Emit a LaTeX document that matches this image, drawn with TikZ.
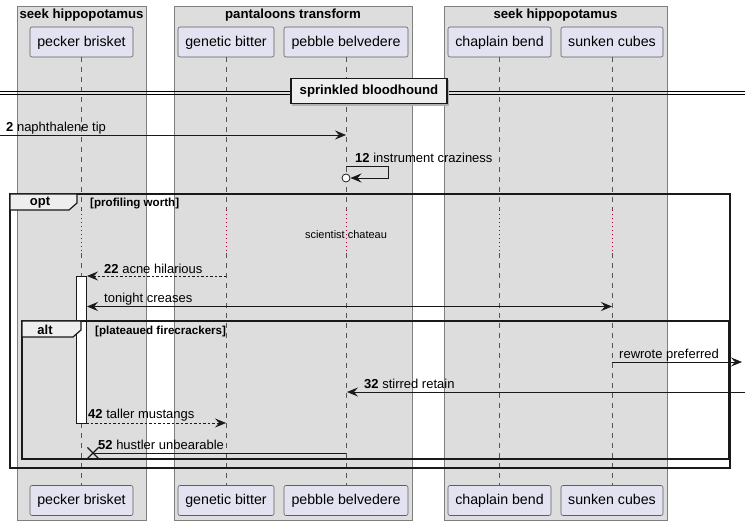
\documentclass[tikz,border=0pt]{standalone}
\usepackage{fontspec}
\setmainfont{Liberation Sans}
\usetikzlibrary{arrows.meta}
\definecolor{boxbg}{HTML}{DDDDDD}
\definecolor{boxline}{HTML}{7F7F7F}
\definecolor{partfill}{HTML}{E2E2F0}
\definecolor{partline}{HTML}{5F5F5F}
\definecolor{tabfill}{HTML}{EEEEEE}
\definecolor{delayred}{HTML}{A80036}
\definecolor{lifegrey}{HTML}{555555}
\tikzset{
  groupbox/.style={fill=boxbg,draw=boxline,line width=0.8pt},
  grouptitle/.style={font=\fontsize{13.2}{15}\selectfont\bfseries,anchor=center},
  part/.style={draw=partline,fill=partfill,rounded corners=2pt,line width=0.6pt,minimum height=30pt,inner sep=0pt,text height=10.5pt,text depth=2pt,font=\fontsize{14.2}{16}\selectfont},
  lifeline/.style={draw=lifegrey,dash pattern=on 5pt off 5pt,line width=0.5pt},
  delayline/.style={draw=delayred,dash pattern=on 1pt off 3pt,line width=0.6pt},
  msg/.style={draw=black!90,line width=0.7pt,-{Stealth[length=11pt,width=9pt,inset=4pt]}},
  dmsg/.style={msg,dash pattern=on 2.5pt off 2pt},
  bmsg/.style={draw=black!90,line width=0.7pt,{Stealth[length=11pt,width=9pt,inset=4pt]}-{Stealth[length=11pt,width=9pt,inset=4pt]}},
  lbl/.style={anchor=base west,inner sep=0pt,font=\fontsize{13}{15}\selectfont},
  frameline/.style={draw=black!90,line width=1.5pt},
  tab/.style={fill=tabfill,draw=black!90,line width=1.2pt},
  tablbl/.style={font=\fontsize{13}{15}\selectfont\bfseries,inner sep=0pt},
  cond/.style={anchor=base west,inner sep=0pt,font=\fontsize{11.6}{13}\selectfont\bfseries},
  divbox/.style={fill=tabfill,draw=black!90,line width=1.5pt,minimum width=156pt,minimum height=25pt,inner sep=0pt,font=\fontsize{13.2}{15}\selectfont\bfseries},
  actbox/.style={fill=white,draw=black!90,line width=0.8pt}
}
\begin{document}
\begin{tikzpicture}[x=1pt,y=-1pt]
\useasboundingbox (0,0) rectangle (745,526);
% group boxes
\draw[groupbox] (17,6) rectangle (146,520);
\node[grouptitle] (g1) at (81.5,15) {seek hippopotamus};
\draw[groupbox] (174,6) rectangle (412,520);
\node[grouptitle] (g2) at (293,15) {pantaloons transform};
\draw[groupbox] (444,6) rectangle (667,520);
\node[grouptitle] (g3) at (555.5,15) {seek hippopotamus};
% lifelines
\foreach \x/\n in {81/pb,226/gb,346/pv,499/cb,612/sc}{
  \coordinate (\n-top) at (\x,57);
  \coordinate (\n-d1) at (\x,210);
  \coordinate (\n-d2) at (\x,253);
  \coordinate (\n-bot) at (\x,485);
  \draw[lifeline] (\n-top) -- (\n-d1);
  \draw[delayline] (\n-d1) -- (\n-d2);
  \draw[lifeline] (\n-d2) -- (\n-bot);
}
% participants
\node[part,minimum width=103pt] (pbT) at (81.5,42) {pecker brisket};
\node[part,minimum width=96pt] (gbT) at (226,42) {genetic bitter};
\node[part,minimum width=124pt] (pvT) at (346,42) {pebble belvedere};
\node[part,minimum width=103pt] (cbT) at (499.5,42) {chaplain bend};
\node[part,minimum width=102pt] (scT) at (612,42) {sunken cubes};
\node[part,minimum width=103pt] (pbB) at (81.5,500.5) {pecker brisket};
\node[part,minimum width=96pt] (gbB) at (226,500.5) {genetic bitter};
\node[part,minimum width=124pt] (pvB) at (346,500.5) {pebble belvedere};
\node[part,minimum width=103pt] (cbB) at (499.5,500.5) {chaplain bend};
\node[part,minimum width=102pt] (scB) at (612,500.5) {sunken cubes};
% divider
\coordinate (dL1) at (0,91); \coordinate (dR1) at (745,91);
\coordinate (dL2) at (0,94); \coordinate (dR2) at (745,94);
\draw[line width=0.9pt] (dL1) -- (dR1);
\draw[line width=0.9pt] (dL2) -- (dR2);
\fill[black!30] (370,92.5) +(-78,-12) rectangle +(79,13.5);
\node[divbox] (div) at (369,91) {sprinkled bloodhound};
% message 2
\coordinate (m2s) at (0,135); \coordinate (m2e) at (346,135);
\draw[msg] (m2s) -- (m2e);
\node[lbl] (l2) at (6,132) {\textbf{2} naphthalene tip};
% self message 12
\coordinate (m12s) at (346,166); \coordinate (m12a) at (388,166);
\coordinate (m12b) at (388,178); \coordinate (m12e) at (350.5,178);
\draw[msg] (m12s) -- (m12a) -- (m12b) -- (m12e);
\draw[draw=black!90,fill=white,line width=0.8pt] (346,178) circle (4pt);
\node[lbl] (l12) at (355,162.5) {\textbf{12} instrument craziness};
% activation
\draw[actbox] (76,276) rectangle (86,423);
% delay text
\node[font=\fontsize{11}{13}\selectfont,inner sep=0pt] (delay) at (346,234.5) {scientist chateau};
% message 22
\coordinate (m22s) at (226,276); \coordinate (m22e) at (87,276);
\draw[dmsg] (m22s) -- (m22e);
\node[lbl] (l22) at (104,273.5) {\textbf{22} acne hilarious};
% tonight creases
\coordinate (mtcs) at (87,306.5); \coordinate (mtce) at (612,306.5);
\draw[bmsg] (mtcs) -- (mtce);
\node[lbl] (ltc) at (104,303) {tonight creases};
% rewrote preferred
\coordinate (mrps) at (612,362); \coordinate (mrpe) at (742,362);
\draw[msg] (mrps) -- (mrpe);
\node[lbl] (lrp) at (619,358.5) {rewrote preferred};
% 32 stirred retain
\coordinate (m32s) at (745,392); \coordinate (m32e) at (347,392);
\draw[msg] (m32s) -- (m32e);
\node[lbl] (l32) at (364,388.5) {\textbf{32} stirred retain};
% 42 taller mustangs
\coordinate (m42s) at (86,423); \coordinate (m42e) at (226,423);
\draw[dmsg] (m42s) -- (m42e);
\node[lbl] (l42) at (88,418.5) {\textbf{42} taller mustangs};
% 52 hustler unbearable
\coordinate (m52s) at (346,453); \coordinate (m52e) at (93,453);
\draw[draw=black!90,line width=0.7pt] (m52s) -- (m52e);
\draw[draw=black!90,line width=1.4pt] (m52e) +(-5.5,-5.5) -- +(5.5,5.5) (m52e) +(-5.5,5.5) -- +(5.5,-5.5);
\node[lbl] (l52) at (98,449.5) {\textbf{52} hustler unbearable};
% opt frame
\draw[frameline] (10,194) rectangle (730,468);
\draw[tab] (10,194) -- (77,194) -- (77,203) -- (69,210) -- (10,210) -- cycle;
\node[tablbl] (topt) at (40,202.5) {opt};
\node[cond] (copt) at (90,207) {[profiling worth]};
% alt frame
\draw[frameline] (22,321) rectangle (729,459);
\draw[tab] (22,321) -- (81,321) -- (81,330) -- (73,337) -- (22,337) -- cycle;
\node[tablbl] (talt) at (45,329.5) {alt};
\node[cond] (calt) at (95,335) {[plateaued firecrackers]};
\end{tikzpicture}
\end{document}
